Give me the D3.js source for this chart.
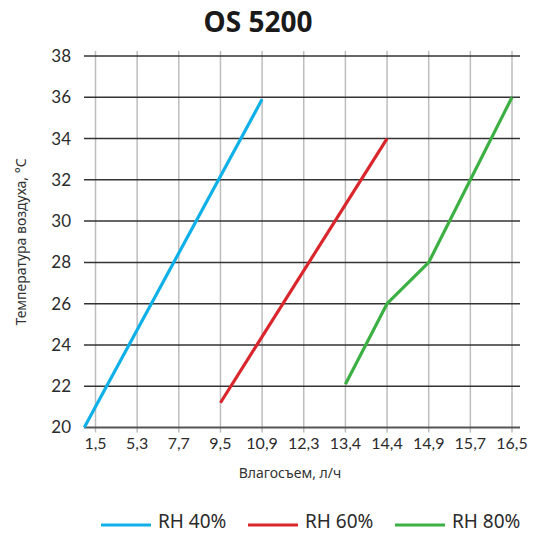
<!DOCTYPE html>
<html>
<head>
<meta charset="utf-8">
<script src="https://cdn.jsdelivr.net/npm/d3@7"></script>
<style>
  html, body { margin: 0; padding: 0; background: #fff; }
  svg { display: block; }
</style>
</head>
<body>
<script>
// ---- data ----
const title = "OS 5200";
const xLabels = ["1,5", "5,3", "7,7", "9,5", "10,9", "12,3", "13,4", "14,4", "14,9", "15,7", "16,5"];
const yTicks = [20, 22, 24, 26, 28, 30, 32, 34, 36, 38];
const seriesNames = ["RH 40%", "RH 60%", "RH 80%"];
const seriesColors = ["#0fb0e8", "#d9262c", "#3cb043"];
// x is position along the category axis (index of xLabels)
const rh40X = [-0.27, 4];
const rh40Y = [20, 35.9];
const rh60X = [3, 7];
const rh60Y = [21.2, 34];
const rh80X = [6, 7, 8, 10];
const rh80Y = [22.1, 26, 28, 36];
const xTitle = "Влагосъем, л/ч";
const yTitle = "Температура воздуха, °C";

const W = 534, H = 533;
const font = "Lato, 'Noto Sans', sans-serif";
const font2 = "'Noto Sans', sans-serif";

const svg = d3.select("body").append("svg").attr("width", W).attr("height", H);

const x = d3.scaleLinear().domain([0, xLabels.length - 1]).range([95.5, 512]);
const y = d3.scaleLinear().domain([20, 38]).range([427.5, 56]);
const left = x(-0.276), right = 520;

// vertical grid lines
svg.append("g").selectAll("line").data(xLabels).join("line")
  .attr("x1", (d, i) => x(i)).attr("x2", (d, i) => x(i))
  .attr("y1", y(38) - 5).attr("y2", y(20) + 5)
  .attr("stroke", "#bdbdbd").attr("stroke-width", 1.5);

// horizontal grid lines
svg.append("g").selectAll("line").data(yTicks).join("line")
  .attr("x1", left).attr("x2", right)
  .attr("y1", d => y(d)).attr("y2", d => y(d))
  .attr("stroke", d => d === 20 ? "#555" : "#333")
  .attr("stroke-width", d => d === 20 ? 2.2 : 1.5);

// y tick labels
svg.append("g").selectAll("text").data(yTicks).join("text")
  .attr("x", 71).attr("y", d => y(d)).attr("dy", "0.35em")
  .attr("text-anchor", "end")
  .attr("font-family", font).attr("font-size", 17).attr("fill", "#2b2b2b")
  .text(d => d);

// x tick labels
svg.append("g").selectAll("text").data(xLabels).join("text")
  .attr("x", (d, i) => x(i)).attr("y", 449)
  .attr("text-anchor", "middle")
  .attr("font-family", font).attr("font-size", 16).attr("fill", "#2b2b2b")
  .text(d => d);

// series lines
const series = [
  { xs: rh40X, ys: rh40Y },
  { xs: rh60X, ys: rh60Y },
  { xs: rh80X, ys: rh80Y }
];
const line = d3.line().x(d => x(d[0])).y(d => y(d[1]));
series.forEach((s, k) => {
  const pts = s.xs.map((v, i) => [v, s.ys[i]]);
  svg.append("path").datum(pts)
    .attr("d", line)
    .attr("fill", "none")
    .attr("stroke", seriesColors[k])
    .attr("stroke-width", 3.2)
    .attr("stroke-linejoin", "round");
});

// title
svg.append("text").attr("x", 258).attr("y", 32)
  .attr("text-anchor", "middle")
  .attr("font-family", font2).attr("font-weight", "bold").attr("font-size", 28)
  .attr("fill", "#1a1a1a").text(title);

// axis titles
svg.append("text").attr("x", 290).attr("y", 478)
  .attr("text-anchor", "middle")
  .attr("font-family", font2).attr("font-size", 14).attr("fill", "#333")
  .text(xTitle);
svg.append("text")
  .attr("transform", "translate(26,242) rotate(-90)")
  .attr("text-anchor", "middle")
  .attr("font-family", font2).attr("font-size", 14).attr("fill", "#333")
  .text(yTitle);

// legend
const legendX = [101, 248, 395];
const lg = svg.append("g").selectAll("g").data(seriesNames).join("g")
  .attr("transform", (d, i) => `translate(${legendX[i]},525)`);
lg.append("line").attr("x1", 0).attr("x2", 50).attr("y1", 0).attr("y2", 0)
  .attr("stroke", (d, i) => seriesColors[i]).attr("stroke-width", 3);
lg.append("text").attr("x", 57).attr("y", 3)
  .attr("font-family", font2).attr("font-size", 19).attr("fill", "#2b2b2b")
  .text(d => d);
</script>
</body>
</html>
